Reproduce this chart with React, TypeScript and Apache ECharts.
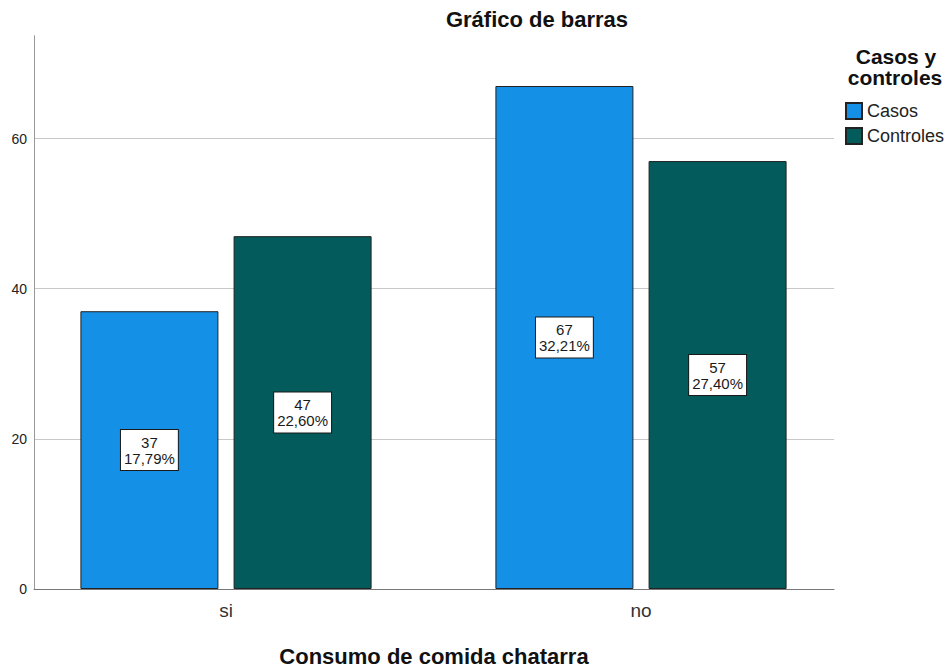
import React, { useEffect, useRef } from "react";
import * as echarts from "echarts";

// Categories on the x axis and the two groups being compared
const categories = ["si", "no"];
const seriesNames = ["Casos", "Controles"];
const casos = [37, 67];
const controles = [47, 57];

// Y axis range and tick step
const yMin = 0;
const yMax = 73.7;
const yInterval = 20;

const FONT = "'Liberation Sans', Arial, Helvetica, sans-serif";
const total = [...casos, ...controles].reduce((a, b) => a + b, 0);

const pctLabel = (v: number) =>
  `${v}\n${((v / total) * 100).toFixed(2).replace(".", ",")}%`;

const GRID_TOP = 35.7;
const GRID_HEIGHT = 553.3;

export default function App() {
  const ref = useRef<HTMLDivElement>(null);

  useEffect(() => {
    if (!ref.current) return;
    const chart = echarts.init(ref.current, undefined, { renderer: "svg" });

    const barLabel = {
      show: true,
      position: "inside",
      formatter: (p: any) => pctLabel(p.value),
      fontFamily: FONT,
      fontSize: 15,
      lineHeight: 16,
      color: "#1a1a1a",
      backgroundColor: "#ffffff",
      borderColor: "#1a1a1a",
      borderWidth: 1,
      padding: [4, 3, 4, 3],
      align: "center",
    };

    const legendTitleStyle = {
      fontFamily: FONT,
      fontSize: 21,
      fontWeight: "bold",
      fill: "#111",
      align: "center",
      verticalAlign: "middle",
    };

    chart.setOption({
      animation: false,
      backgroundColor: "#ffffff",
      textStyle: { fontFamily: FONT },
      graphic: [
        {
          type: "text",
          x: 537,
          y: 8,
          style: {
            text: "Gráfico de barras",
            fontFamily: FONT,
            fontSize: 22,
            fontWeight: "bold",
            fill: "#111",
            align: "center",
          },
        },
        // Legend heading, one line per text element
        { type: "text", x: 896, y: 56, style: { ...legendTitleStyle, text: "Casos y" } },
        { type: "text", x: 895, y: 77.5, style: { ...legendTitleStyle, text: "controles" } },
      ],
      legend: {
        data: seriesNames,
        orient: "vertical",
        left: 845,
        top: 102,
        padding: 0,
        itemWidth: 16,
        itemHeight: 16,
        itemGap: 7,
        icon: "rect",
        textStyle: { fontFamily: FONT, fontSize: 18, color: "#222" },
      },
      grid: [
        {
          left: 34,
          top: GRID_TOP,
          width: 800,
          height: GRID_HEIGHT,
          outerBoundsMode: "none",
          containLabel: false,
        },
        {
          left: 18.5,
          top: GRID_TOP,
          width: 830,
          height: GRID_HEIGHT,
          outerBoundsMode: "none",
          containLabel: false,
        },
      ],
      xAxis: [
        {
          gridIndex: 0,
          type: "category",
          data: categories,
          axisLine: { lineStyle: { color: "#777", width: 1 } },
          axisTick: { show: false },
          axisLabel: { show: false },
          name: "Consumo de comida chatarra",
          nameLocation: "middle",
          nameGap: 56,
          nameTextStyle: {
            fontFamily: FONT,
            fontSize: 22,
            fontWeight: "bold",
            color: "#111",
          },
        },
        {
          gridIndex: 1,
          type: "category",
          data: categories,
          axisLine: { show: false },
          axisTick: { show: false },
          axisLabel: { fontFamily: FONT, fontSize: 19, color: "#333", margin: 12 },
        },
      ],
      yAxis: [
        {
          gridIndex: 0,
          type: "value",
          min: yMin,
          max: yMax,
          interval: yInterval,
          axisLine: { show: true, lineStyle: { color: "#999", width: 1 } },
          axisTick: { show: false },
          axisLabel: {
            showMaxLabel: false,
            fontFamily: FONT,
            fontSize: 14,
            color: "#222",
            margin: 7,
          },
          splitLine: {
            show: true,
            showMaxLine: false,
            lineStyle: {
              color: ["#c8c8c8", "#c8c8c8", "#c8c8c8", "#c8c8c8", "rgba(0,0,0,0)"],
              width: 1,
            },
          },
        },
        {
          gridIndex: 1,
          type: "value",
          min: yMin,
          max: yMax,
          show: false,
          splitLine: { show: false },
        },
      ],
      series: [
        {
          name: seriesNames[0],
          type: "bar",
          xAxisIndex: 1,
          yAxisIndex: 1,
          data: casos,
          barWidth: 138,
          barGap: "11%",
          itemStyle: { color: "#1490e6", borderColor: "#222", borderWidth: 1 },
          label: barLabel,
        },
        {
          name: seriesNames[1],
          type: "bar",
          xAxisIndex: 1,
          yAxisIndex: 1,
          data: controles,
          barWidth: 138,
          barGap: "11%",
          itemStyle: { color: "#035b5b", borderColor: "#222", borderWidth: 1 },
          label: barLabel,
        },
      ],
    });

    return () => chart.dispose();
  }, []);

  return (
    <div
      ref={ref}
      style={{ position: "fixed", left: 0, top: 0, width: 949, height: 667 }}
    />
  );
}
